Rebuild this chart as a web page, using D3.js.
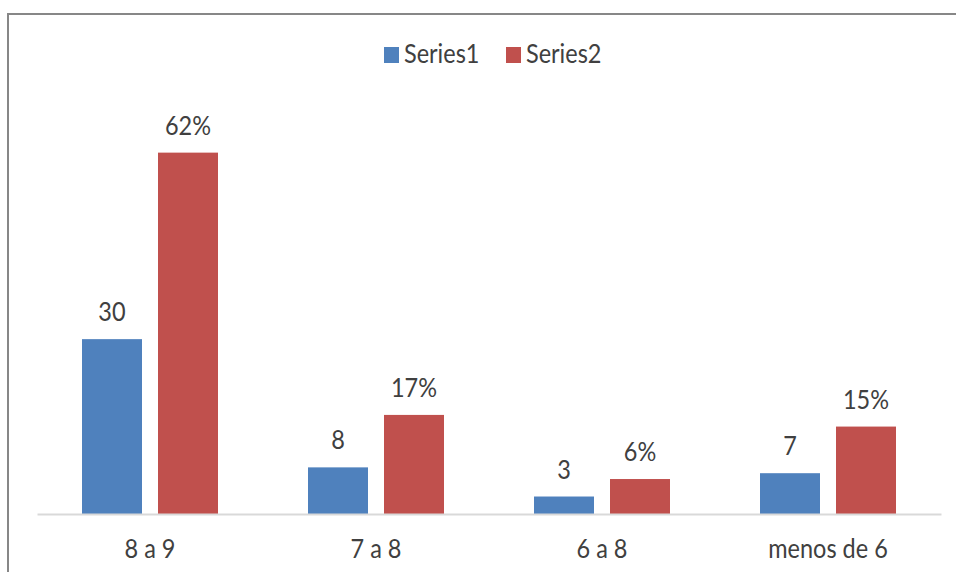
<!DOCTYPE html>
<html>
<head>
<meta charset="utf-8">
<script src="https://cdn.jsdelivr.net/npm/d3@7"></script>
<style>
  html, body { margin: 0; padding: 0; background: #fff; }
  svg { display: block; }
  text { font-family: Lato, "Open Sans", sans-serif; fill: #404040; }
</style>
</head>
<body>
<svg id="chart" width="956" height="572"></svg>
<script>
// Grades per range: counts (Series1) and share of students (Series2)
const categories = ["8 a 9", "7 a 8", "6 a 8", "menos de 6"];
const seriesNames = ["Series1", "Series2"];
const series1 = [30, 8, 3, 7];
const series2 = [62, 17, 6, 15];
const series2Labels = ["62%", "17%", "6%", "15%"];
const colors = ["#4F81BD", "#C0504D"];

const svg = d3.select("#chart");
const W = 956, H = 572;
const plot = { left: 37, right: 941, top: 106, bottom: 514 };
const fontSize = 23.5;
const stretch = 1.18;

// Outer chart frame
svg.append("rect")
  .attr("x", 8).attr("y", 14)
  .attr("width", W + 20).attr("height", H + 20)
  .attr("fill", "#fff")
  .attr("stroke", "#878787")
  .attr("stroke-width", 2);

const x0 = d3.scaleBand().domain(categories).range([plot.left, plot.right]).padding(0);
const groupPad = 45;
const x1 = d3.scaleBand().domain(seriesNames)
  .range([groupPad, x0.bandwidth() - groupPad])
  .paddingInner(16 / 76).paddingOuter(0);
const y = d3.scaleLinear().domain([0, 70]).range([plot.bottom, plot.top]);

const rows = categories.map((c, i) => ({
  cat: c,
  vals: [
    { s: seriesNames[0], v: series1[i], label: String(series1[i]), color: colors[0] },
    { s: seriesNames[1], v: series2[i], label: series2Labels[i], color: colors[1] }
  ]
}));

const groups = svg.append("g").selectAll("g").data(rows).join("g")
  .attr("transform", d => `translate(${x0(d.cat)},0)`);

groups.selectAll("rect").data(d => d.vals).join("rect")
  .attr("x", d => x1(d.s))
  .attr("y", d => y(d.v))
  .attr("width", x1.bandwidth())
  .attr("height", d => y(0) - y(d.v))
  .attr("fill", d => d.color);

// Value labels above each bar
groups.selectAll("text").data(d => d.vals).join("text")
  .attr("text-anchor", "middle")
  .attr("font-size", fontSize)
  .attr("transform", d => `translate(${x1(d.s) + x1.bandwidth() / 2},${y(d.v) - 18}) scale(1,${stretch})`)
  .text(d => d.label);

// Category axis
const axis = svg.append("g")
  .attr("transform", `translate(0,${plot.bottom})`)
  .call(d3.axisBottom(x0).tickSize(0).tickSizeOuter(0));
axis.select(".domain").attr("stroke", "#D9D9D9").attr("stroke-width", 2);
axis.selectAll(".tick text")
  .attr("font-size", fontSize)
  .attr("font-family", "Lato, 'Open Sans', sans-serif")
  .attr("fill", "#404040")
  .attr("y", 0).attr("dy", null)
  .attr("transform", `translate(0,44) scale(1,${stretch})`);

// Legend
const legend = svg.append("g");
const legendItems = [
  { name: seriesNames[0], color: colors[0], x: 384 },
  { name: seriesNames[1], color: colors[1], x: 506 }
];
const li = legend.selectAll("g").data(legendItems).join("g")
  .attr("transform", d => `translate(${d.x},0)`);
li.append("rect").attr("x", 0).attr("y", 47).attr("width", 15).attr("height", 16)
  .attr("fill", d => d.color);
li.append("text")
  .attr("font-size", fontSize)
  .attr("transform", `translate(20,63) scale(1,${stretch})`)
  .text(d => d.name);
</script>
</body>
</html>
